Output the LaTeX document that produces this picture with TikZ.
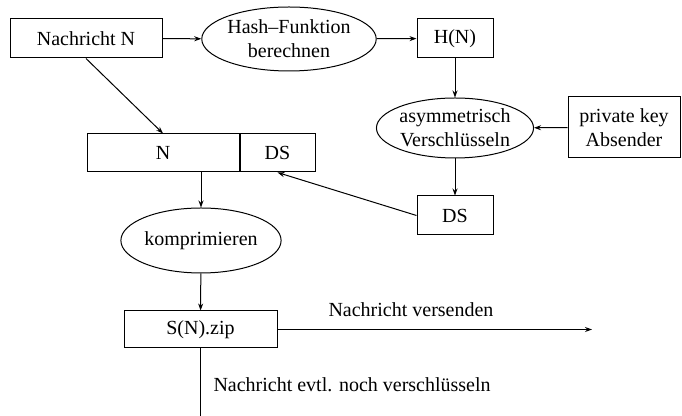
\documentclass[tikz,border=0pt]{standalone}
\usepackage{fontspec}
\setmainfont{Liberation Serif}
\usetikzlibrary{positioning,calc}
\usetikzlibrary{shapes.geometric,arrows.meta}

\begin{document}
\begin{tikzpicture}[x=0.5pt,y=-0.5pt,line width=0.5pt,
        box/.style={draw,rectangle,inner sep=0pt,minimum height=19.5pt},
        oval/.style={draw,ellipse,inner sep=0pt,minimum width=77pt,minimum height=31pt,align=center},
        pfeil/.style={-{Stealth[length=3.5pt,width=2.5pt]}}]
        \useasboundingbox (0,0) rectangle (682,416);

        % Signatur
        \node[box,minimum width=76pt] (nachricht) at (86,38.5) {Nachricht N};
        \node[oval,minimum height=32pt] (hash) at (289,39) {Hash--Funktion\\berechnen};
        \node[box,minimum width=38pt] (hn) at (455,38.5) {H(N)};
        \node[oval,minimum height=30pt] (asym) at (455,128) {asymmetrisch\\Verschlüsseln};
        \node[box,minimum width=56pt,minimum height=30.5pt,align=center] (key) at (624,127.5) {private key\\Absender};
        \node[box,minimum width=38pt] (sig) at (455,215.5) {DS};

        % Nachricht mit Signatur
        \node[box,minimum width=76pt,minimum height=19pt] (n) at (163,153) {N};
        \node[box,minimum width=37.5pt,minimum height=19pt,anchor=west] (ds) at (n.east) {DS};
        \node[oval,minimum height=32.5pt] (zip) at (201,240.5) {komprimieren};
        \node[box,minimum width=76.5pt,minimum height=18.5pt] (szip) at (200.5,329.5) {S(N).zip};

        \coordinate (ende) at (592,329.5);
        \coordinate (unten) at (200.5,416);
        \node (versenden) at (411,310) {Nachricht versenden};
        \node[anchor=west,inner sep=0pt] (evtl) at (213,385) {Nachricht evtl. noch verschlüsseln};

        % Pfeile
        \draw[pfeil] (nachricht) -- (hash);
        \draw[pfeil] (hash) -- (hn);
        \draw[pfeil] (hn) -- (asym);
        \draw[pfeil] (key) -- (asym);
        \draw[pfeil] (asym) -- (sig);
        \draw[pfeil] (nachricht.south) -- (n.north);
        \draw[pfeil] (sig.west) -- (ds.south);
        \draw[pfeil] ($(n.south west)!.5!(ds.south east)$) -- (zip);
        \draw[pfeil] (zip) -- (szip);
        \draw[pfeil] (szip) -- (ende);
        \draw (szip) -- (unten);

    \end{tikzpicture}
\end{document}
